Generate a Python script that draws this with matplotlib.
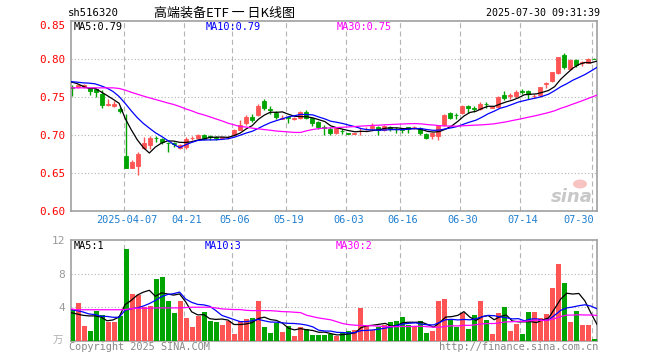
import numpy as np
import pandas as pd
import matplotlib
matplotlib.use("Agg")
import matplotlib.pyplot as plt
from matplotlib.patches import Ellipse

# ---- data (sh516320 daily, 2025-03-24 .. 2025-07-30) ----
tick_idx = [9, 19, 27, 36, 46, 55, 65, 75, 87]
tick_lbl = ['2025-04-07', '04-21', '05-06', '05-19', '06-03', '06-16', '06-30', '07-14', '07-30']

open_ = [0.763, 0.763, 0.763, 0.761, 0.760, 0.7535, 0.739, 0.738, 0.7345, 0.672,
         0.657, 0.6585, 0.6825, 0.687, 0.6965, 0.695, 0.6895, 0.6895, 0.683, 0.684,
         0.6955, 0.6955, 0.6995, 0.698, 0.697, 0.6955, 0.697, 0.700, 0.707, 0.715,
         0.724, 0.7265, 0.744, 0.7335, 0.729, 0.7215, 0.723, 0.7213, 0.722, 0.7307,
         0.722, 0.717, 0.710, 0.7075, 0.7026, 0.7056, 0.702, 0.7015, 0.7048, 0.7078,
         0.709, 0.711, 0.706, 0.711, 0.7082, 0.7075, 0.710, 0.7103, 0.709, 0.7018,
         0.698, 0.698, 0.7136, 0.7294, 0.726, 0.7285, 0.738, 0.7352, 0.7346, 0.7405,
         0.7355, 0.737, 0.753, 0.7515, 0.7513, 0.7572, 0.757, 0.751, 0.7526, 0.7673,
         0.771, 0.781, 0.8044, 0.7864, 0.7987, 0.7948, 0.795, 0.8003]
high = [0.766, 0.766, 0.767, 0.762, 0.761, 0.759, 0.747, 0.744, 0.737, 0.727,
        0.667, 0.678, 0.697, 0.6985, 0.6985, 0.6965, 0.690, 0.6905, 0.6885, 0.697,
        0.698, 0.7015, 0.7015, 0.700, 0.699, 0.6975, 0.699, 0.708, 0.719, 0.726,
        0.727, 0.741, 0.7465, 0.738, 0.731, 0.7255, 0.7245, 0.7235, 0.7315, 0.7325,
        0.7228, 0.7185, 0.7133, 0.7097, 0.711, 0.7075, 0.7031, 0.703, 0.7088, 0.710,
        0.715, 0.712, 0.7125, 0.712, 0.710, 0.7095, 0.711, 0.7123, 0.710, 0.703,
        0.704, 0.713, 0.728, 0.7307, 0.7294, 0.739, 0.7395, 0.7377, 0.743, 0.7437,
        0.737, 0.7513, 0.757, 0.7544, 0.7588, 0.760, 0.7588, 0.7535, 0.7632, 0.770,
        0.7829, 0.8026, 0.807, 0.7993, 0.7996, 0.7974, 0.8004, 0.8008]
low = [0.751, 0.762, 0.762, 0.753, 0.750, 0.735, 0.738, 0.737, 0.729, 0.656,
       0.656, 0.647, 0.681, 0.682, 0.6905, 0.688, 0.678, 0.684, 0.681, 0.682,
       0.693, 0.694, 0.693, 0.6935, 0.6935, 0.695, 0.695, 0.699, 0.706, 0.713,
       0.7175, 0.725, 0.733, 0.728, 0.721, 0.7205, 0.716, 0.7195, 0.721, 0.721,
       0.712, 0.7075, 0.700, 0.700, 0.701, 0.7005, 0.7005, 0.701, 0.700, 0.7066,
       0.7075, 0.700, 0.7055, 0.7053, 0.703, 0.703, 0.703, 0.7083, 0.700, 0.6943,
       0.6943, 0.693, 0.712, 0.721, 0.7215, 0.7272, 0.7294, 0.7307, 0.7333, 0.735,
       0.7353, 0.7355, 0.746, 0.7469, 0.7491, 0.7535, 0.7469, 0.7491, 0.750, 0.7614,
       0.770, 0.7799, 0.786, 0.785, 0.7886, 0.7899, 0.7943, 0.7991]
close = [0.762, 0.765, 0.765, 0.758, 0.756, 0.739, 0.741, 0.740, 0.7315, 0.657,
         0.665, 0.6745, 0.689, 0.6955, 0.696, 0.691, 0.689, 0.688, 0.687, 0.695,
         0.696, 0.700, 0.695, 0.6975, 0.6965, 0.697, 0.6975, 0.707, 0.7136, 0.724,
         0.719, 0.738, 0.735, 0.733, 0.723, 0.722, 0.7225, 0.7218, 0.7307, 0.722,
         0.715, 0.7105, 0.7095, 0.702, 0.7096, 0.7052, 0.7015, 0.702, 0.7052, 0.7082,
         0.712, 0.7066, 0.7115, 0.708, 0.7078, 0.707, 0.7075, 0.7107, 0.702, 0.6956,
         0.7026, 0.7114, 0.7267, 0.7228, 0.7255, 0.7373, 0.735, 0.7346, 0.7412, 0.740,
         0.7365, 0.7504, 0.7487, 0.752, 0.7557, 0.7568, 0.7535, 0.7515, 0.7623, 0.7678,
         0.782, 0.8018, 0.7886, 0.798, 0.792, 0.7952, 0.7996, 0.7999]
# volume, 万
vol = [3.8, 4.52, 1.76, 1.16, 3.6, 3.12, 2.28, 2.24, 2.96, 11.0,
       5.6, 5.44, 4.0, 4.1, 7.4, 7.64, 4.8, 3.3, 4.8, 2.7,
       1.64, 3.0, 3.44, 2.36, 2.28, 1.88, 2.36, 0.8, 2.36, 2.6,
       2.72, 4.76, 1.64, 0.92, 2.1, 1.08, 1.76, 0.6, 1.68, 1.4,
       0.68, 0.68, 0.68, 0.8, 0.6, 0.88, 1.12, 1.28, 3.92, 1.72,
       1.24, 1.64, 1.84, 2.2, 2.36, 2.8, 1.84, 1.8, 2.32, 0.92,
       1.16, 4.72, 5.0, 2.6, 1.68, 3.36, 1.4, 3.08, 4.76, 2.48,
       0.8, 3.32, 4.0, 1.16, 2.0, 0.8, 3.44, 3.44, 2.72, 3.2,
       6.32, 9.2, 6.92, 2.24, 3.56, 1.88, 1.88, 0.2]

# MA values shown before the window has enough history
ma5_head = [0.7697, 0.7675, 0.764, 0.761]
ma10_head = [0.770, 0.7693, 0.7684, 0.768, 0.7671, 0.7645, 0.7614, 0.757, 0.7504]
ma30_head = [0.7618, 0.7618, 0.7618, 0.7618, 0.7618, 0.7618, 0.7618, 0.7618, 0.761,
             0.7588, 0.756, 0.7535, 0.751, 0.7487, 0.7465, 0.7443, 0.742, 0.740,
             0.7373, 0.7342, 0.7316, 0.7285, 0.7263, 0.7237, 0.721, 0.7184, 0.7154,
             0.7132, 0.711]
vma5_head = [3.36, 3.2, 3.04, 2.96]
vma10_head = [3.72, 3.6, 3.44, 3.2, 3.12, 2.92, 2.9, 2.8, 2.8]
vma30_head = [3.8, 3.7, 3.7, 3.7, 3.7, 3.7, 3.7, 3.7, 3.7, 3.72, 3.84, 3.88, 3.88,
              3.88, 3.92, 3.92, 3.92, 3.92, 3.92, 3.96, 4.0, 4.0, 4.0, 4.0, 3.92,
              3.8, 3.76, 3.72, 3.72]


def moving(values, n, head):
    m = pd.Series(values).rolling(n).mean().to_numpy()
    m[:len(head)] = head
    return m


RED = '#ff5454'
GREEN = '#00a400'
GRID = '#b4b4b4'
MONO = 'DejaVu Sans Mono'
CJK = ['Noto Sans CJK SC', 'DejaVu Sans']

n = len(close)
x = np.arange(n)
o = np.array(open_)
c = np.array(close)
up = c >= o
cols = np.where(up, RED, GREEN)

W, H = 660, 360
fig = plt.figure(figsize=(6.6, 3.6), dpi=100)
fig.patch.set_facecolor('white')

def frac(px, py):
    return px / W, 1 - py / H

xl, xr = 70.7, 597.0
ax = fig.add_axes([xl / W, 1 - 211 / H, (xr - xl) / W, (211 - 20.7) / H])
axv = fig.add_axes([xl / W, 1 - 340.7 / H, (xr - xl) / W, (340.7 - 240.3) / H])

xmin, xmax = -0.27, 87.45
line_x = np.linspace(xmin, xmax, n)

for a in (ax, axv):
    a.set_xlim(xmin, xmax)
    for s in a.spines.values():
        s.set_color('#a0a0a0')
        s.set_linewidth(1.2)
    for t in tick_idx:
        a.axvline(t - 0.33, color=GRID, lw=0.8, ls=(0, (4.5, 3)), zorder=0)
    a.tick_params(length=0)

# watermark (behind the candles)
fig.text(*frac(572, 197), 'sina', fontsize=13, fontweight='bold', style='italic',
         ha='center', va='center', color='#c8c8c8', zorder=0)
fig.patches.append(Ellipse(frac(580, 184), 14 / W, 9 / H, transform=fig.transFigure,
                           facecolor='#f6b4b4', edgecolor='none', alpha=0.8, zorder=0))

# price pane
ax.set_facecolor('none')
ax.set_ylim(0.60, 0.85)
for yv in [0.65, 0.70, 0.75, 0.80]:
    ax.axhline(yv, color=GRID, lw=0.8, ls=(0, (1, 2)), zorder=0)
ax.vlines(x, low, high, colors=cols, lw=1.0, zorder=2)
ax.bar(x, np.abs(c - o), bottom=np.minimum(o, c), width=0.68,
       color=cols, edgecolor=cols, linewidth=0.6, zorder=3)
ax.plot(line_x, moving(close, 5, ma5_head), color='black', lw=0.9, zorder=4)
ax.plot(line_x, moving(close, 10, ma10_head), color='#0000ff', lw=0.9, zorder=4)
ax.plot(line_x, moving(close, 30, ma30_head), color='#ff00ff', lw=0.9, zorder=4)

ax.set_yticks([0.60, 0.65, 0.70, 0.75, 0.80, 0.85])
ax.set_yticklabels(['0.60', '0.65', '0.70', '0.75', '0.80', '0.85'],
                   family=MONO, fontsize=7.8, color='#ff0000')
ax.get_yticklabels()[-1].set_va('top')
ax.tick_params(axis='y', pad=4)
ax.set_xticks(tick_idx)
ax.set_xticklabels(tick_lbl, family=MONO, fontsize=7.4, color='#1f7fd0')
ax.get_xticklabels()[-1].set_ha('right')
ax.tick_params(axis='x', pad=3)

# volume pane
axv.set_ylim(0, 12)
for yv in [4, 8]:
    axv.axhline(yv, color=GRID, lw=0.8, ls=(0, (1, 2)), zorder=0)
axv.bar(x, vol, width=0.78, color=cols, linewidth=0, zorder=3)
axv.plot(line_x, moving(vol, 5, vma5_head), color='black', lw=0.9, zorder=4)
axv.plot(line_x, moving(vol, 10, vma10_head), color='#0000ff', lw=0.9, zorder=4)
axv.plot(line_x, moving(vol, 30, vma30_head), color='#ff00ff', lw=0.9, zorder=4)
axv.set_yticks([4, 8, 12])
axv.set_yticklabels(['4', '8', '12'], family=MONO, fontsize=8, color='#999999')
axv.tick_params(axis='y', pad=4)
axv.set_xticks([])

# texts
fig.text(*frac(68, 13), 'sh516320', family=MONO, fontsize=7.6, va='center')
fig.text(*frac(224, 13), '高端装备ETF 一 日K线图', family=CJK, fontsize=9.4,
         ha='center', va='center')
fig.text(*frac(600, 13), '2025-07-30 09:31:39', family=MONO, fontsize=7.2,
         ha='right', va='center')
fig.text(*frac(74, 27), 'MA5:0.79', family=MONO, fontsize=7.4, va='center', color='black')
fig.text(*frac(206, 27), 'MA10:0.79', family=MONO, fontsize=7.4, va='center', color='#0000ff')
fig.text(*frac(337, 27), 'MA30:0.75', family=MONO, fontsize=7.4, va='center', color='#ff00ff')
fig.text(*frac(74, 246), 'MA5:1', family=MONO, fontsize=7.4, va='center', color='black')
fig.text(*frac(205, 246), 'MA10:3', family=MONO, fontsize=7.4, va='center', color='#0000ff')
fig.text(*frac(336, 246), 'MA30:2', family=MONO, fontsize=7.4, va='center', color='#ff00ff')
fig.text(*frac(63, 341), '万', family=CJK, fontsize=7.5, ha='right', va='center',
         color='#b0b0b0')
fig.text(*frac(69, 347), 'Copyright 2025 SINA.COM', family=MONO, fontsize=7.4,
         va='center', color='#888888')
fig.text(*frac(598, 347), 'http://finance.sina.com.cn', family=MONO, fontsize=7.4,
         ha='right', va='center', color='#888888')

fig.savefig('out.png', dpi=100)
